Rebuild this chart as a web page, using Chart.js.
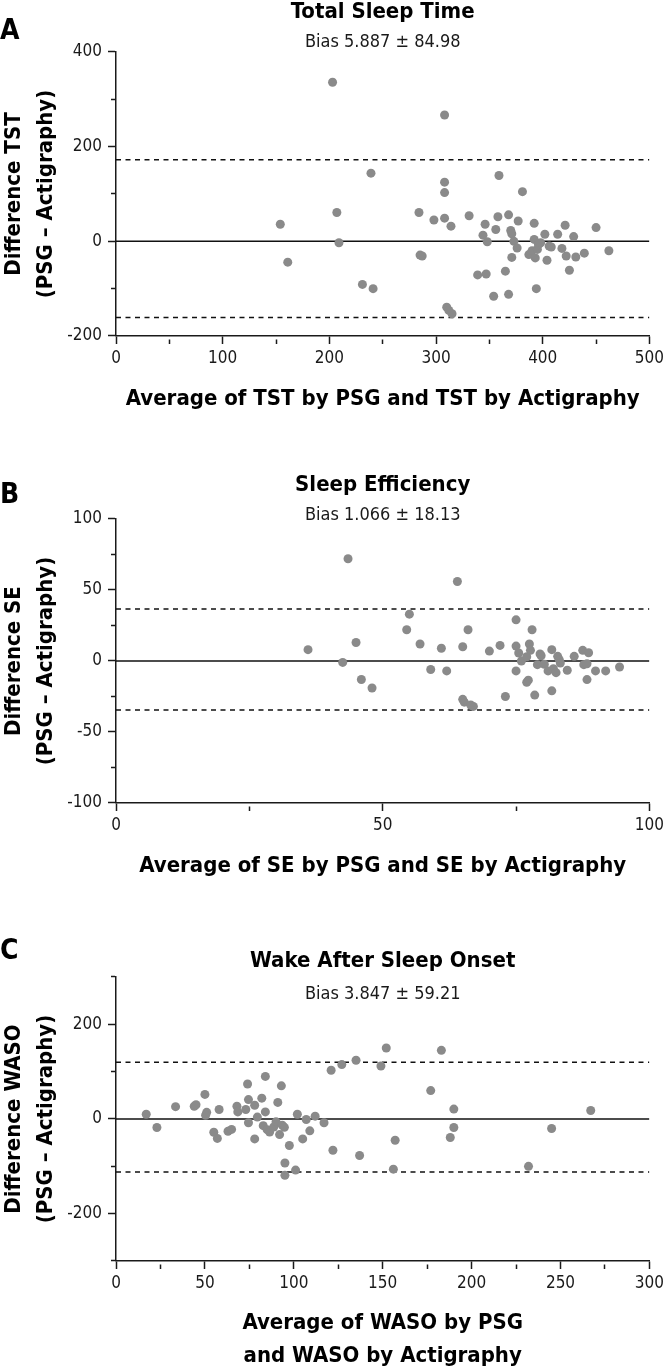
<!DOCTYPE html>
<html><head><meta charset="utf-8">
<script src="https://cdn.jsdelivr.net/npm/chart.js@4/dist/chart.umd.min.js"></script>
<style>
html,body{margin:0;padding:0;background:#fff;overflow:hidden;width:668px;height:1371px;position:relative}
canvas{position:absolute;left:0}
</style></head><body>
<canvas id="cA" width="668" height="420" style="top:-4px"></canvas>
<canvas id="cB" width="668" height="414" style="top:469px"></canvas>
<canvas id="cC" width="668" height="443" style="top:930px"></canvas>
<script>
// ---- Panel A: Total Sleep Time ----
const tstMean = [203,308,239,308,308,359,381,154,161,207,209,231,241,284,285,287,298,308,314,310,312,315,331,339,346,344,347,348,354,356,358,365,368,368,370,371,371,373,376,377,387,390,392,392,393,394,395,396,398,402,404,406,408,414,418,421,422,425,429,431,439,450,462];
const tstDiff = [336,267,144,125,103,139,105,36,-44,61,-3,-91,-100,61,-29,-31,45,49,32,-139,-146,-153,54,-71,36,13,-69,-1,-116,25,52,-63,56,-112,23,16,-34,0,-14,43,-28,-20,38,4,-35,-100,-17,-7,-3,15,-40,-10,-12,15,-15,34,-31,-61,10,-33,-25,29,-20];
const tstBias = 5.887, tstSD = 84.98;

// ---- Panel B: Sleep Efficiency ----
const seMean = [43.5,64,55,54.5,66,75,78,36,42.5,45,46,48,57,59,61,62,65,65.3,65,67,66.5,70,72,73,75,75,75.5,76,77,77,77.3,77.5,77.7,79,78.5,79.5,79.7,80.3,81.7,81.7,81,82,82.5,82.8,83.1,83.3,84.6,85.9,87.5,87.7,88.3,88.6,88.3,89.9,91.8,94.4];
const seDiff = [72,56,33,22,22,29,22,8,-1,13,-13,-19,12,-6,9,-7,-27,-29,10,-32,-31,7,11,-25,-7,10.5,5.6,0,3,-15,-13.5,12,7.5,-2.6,-24,5,3.7,-2.3,8,-21,-7,-5.4,-8.2,3.3,1,-1.4,-6.5,3.3,7.5,-2.6,-1.9,5.8,-13.1,-7,-7,-4.2];
const seBias = 1.066, seSD = 18.13;

// ---- Panel C: Wake After Sleep Onset ----
const wasoMean = [152,183,135,127,121,149,84,74,93,50,177,17,23,33.5,44,45,51,50.4,58,55,57,63,65,68,68.5,73,74.5,74.5,78,78,79.5,82,84,82.8,85,86.4,88.7,90,91,92,93.5,94.7,95,95,97.5,102,101,105,107,109,112,117,122,137,156,157,188,190,190,232,245,267];
const wasoDiff = [150,145,124,115,103,112,90,74,70,52,60,10,-18,26,27,30,14,8,20,-28,-41,-26,-22,27,15,20,41,-8,29,-42,4,44,15,-14,-22.5,-27.5,-17,-6,35,-33,-13,-17.6,-93,-119,-56,10,-108,-42,-1,-25,6,-8,-66,-77,-106,-45,-39,21,-18,-100,-20,18];
const wasoBias = 3.847, wasoSD = 59.21;

// axis ranges and tick steps [min, max, step, labelStep]
const tstX = [0, 500, 50, 100], tstY = [-200, 400, 100, 200];
const seX = [0, 100, 25, 50], seY = [-100, 100, 25, 50];
const wasoX = [0, 300, 25, 50], wasoY = [-300, 300, 100, 200];

const FONT = "'Liberation Sans Narrow','Arial Narrow','DejaVu Sans Condensed',sans-serif";
const mult = (v, s) => Math.abs(v / s - Math.round(v / s)) < 1e-6;

const annot = {
  id: 'annot',
  afterDraw(chart, args, o) {
    const {ctx, chartArea} = chart;
    ctx.save();
    ctx.textBaseline = 'middle';
    ctx.fillStyle = '#000';
    ctx.font = 'bold 28px ' + FONT;
    ctx.textAlign = 'left';
    ctx.fillText(o.letter, 0, o.letterY);
    ctx.font = '18px ' + FONT;
    ctx.fillStyle = '#1a1a1a';
    ctx.textAlign = 'center';
    ctx.fillText(o.bias, (chartArea.left + chartArea.right) / 2, chartArea.top + o.biasDy);
    ctx.restore();
  }
};

function axis(r, pos, title, extra) {
  const [min, max, step, lab] = r;
  const left = pos === 'left';
  return Object.assign({
    type: 'linear', position: pos, min, max,
    ticks: {stepSize: step, autoSkip: false, maxRotation: 0, color: '#1a1a1a',
      padding: left ? 6 : 4,
      font: {family: FONT, size: 17, lineHeight: 1.2},
      callback: v => mult(v, lab) ? String(v) : ''},
    grid: {drawOnChartArea: false, drawTicks: true, tickLength: 8, tickWidth: 1.5, tickColor: '#1a1a1a',
      tickBorderDash: c => (c.tick && mult(c.tick.value, lab)) ? [] : [0, 3, 20]},
    border: {display: true, color: '#1a1a1a', width: 1.5},
    title: {display: true, text: title, color: '#000',
      font: {family: FONT, size: 22, weight: 'bold', lineHeight: left ? 1.45 : 1.5},
      padding: left ? {top: -2, bottom: 0} : {top: 0, bottom: 0}}
  }, extra);
}

function build(id, o) {
  const pts = o.x.map((x, i) => ({x, y: o.y[i]}));
  const xr = o.xr;
  const hl = (v, dash) => ({type: 'line', data: [{x: xr[0], y: v}, {x: xr[1], y: v}], showLine: true,
    borderColor: '#111', borderWidth: 1.5, borderDash: dash, pointRadius: 0, pointHoverRadius: 0, order: 2, fill: false});
  new Chart(document.getElementById(id), {
    type: 'scatter',
    data: {datasets: [
      hl(0, []),
      hl(o.bias + 1.96 * o.sd, [5, 4.5]),
      hl(o.bias - 1.96 * o.sd, [5, 4.5]),
      {data: pts, backgroundColor: '#8a8a8a', borderWidth: 0, pointRadius: 4.5, pointHoverRadius: 4.5, order: 1}
    ]},
    options: {
      responsive: false, animation: false, devicePixelRatio: 1,
      layout: {padding: {left: 0, right: 16, top: 0, bottom: 0}},
      plugins: {
        legend: {display: false}, tooltip: {enabled: false},
        title: {display: true, fullSize: false, text: o.title, color: '#000',
          font: {family: FONT, size: 22, weight: 'bold', lineHeight: 1.4727},
          padding: {top: o.tPad, bottom: o.tBot}},
        annot: {letter: o.letter, letterY: o.letterY, bias: o.biasText, biasDy: o.biasDy}
      },
      scales: {
        x: axis(o.xr, 'bottom', o.xTitle, {afterFit: s => { s.height = o.hx; }}),
        y: axis(o.yr, 'left', o.yTitle, {afterFit: s => { s.width = 116; }})
      }
    },
    plugins: [annot]
  });
}

build('cA', {x: tstMean, y: tstDiff, bias: tstBias, sd: tstSD, xr: tstX, yr: tstY,
  title: 'Total Sleep Time', biasText: 'Bias 5.887 ± 84.98', letter: 'A', letterY: 35.5, biasDy: -9.5,
  xTitle: 'Average of TST by PSG and TST by Actigraphy', yTitle: ['Difference TST', '(PSG – Actigraphy)'],
  tPad: 0, tBot: 23.6, hx: 80});
build('cB', {x: seMean, y: seDiff, bias: seBias, sd: seSD, xr: seX, yr: seY,
  title: 'Sleep Efficiency', biasText: 'Bias 1.066 ± 18.13', letter: 'B', letterY: 27, biasDy: -3.5,
  xTitle: 'Average of SE by PSG and SE by Actigraphy', yTitle: ['Difference SE', '(PSG – Actigraphy)'],
  tPad: 0, tBot: 17.6, hx: 80});
build('cC', {x: wasoMean, y: wasoDiff, bias: wasoBias, sd: wasoSD, xr: wasoX, yr: wasoY,
  title: 'Wake After Sleep Onset', biasText: 'Bias 3.847 ± 59.21', letter: 'C', letterY: 22, biasDy: 17.3,
  xTitle: ['Average of WASO by PSG', 'and WASO by Actigraphy'], yTitle: ['Difference WASO', '(PSG – Actigraphy)'],
  tPad: 15, tBot: -0.4, hx: 112});
</script>
</body></html>
